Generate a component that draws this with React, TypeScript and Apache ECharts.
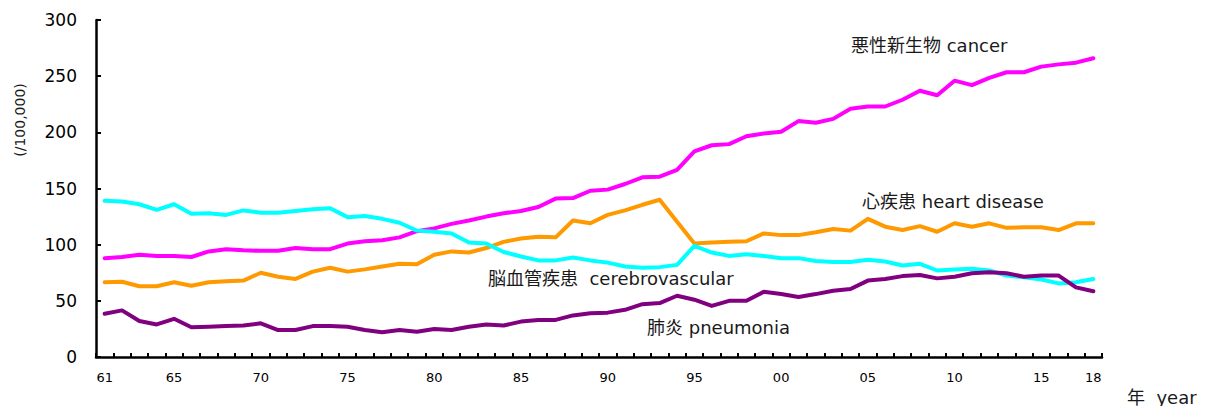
import React, { useEffect, useRef } from "react";
import * as echarts from "echarts";

const years: string[] = [];
for (let y = 1961; y <= 2018; y++) years.push(String(y));

const labelYears = ["1961", "1965", "1970", "1975", "1980", "1985", "1990", "1995", "2000", "2005", "2010", "2015", "2018"];

const cancer = [
  88, 89, 91, 90, 90, 89, 94, 96, 95, 94.5,
  94.5, 97, 96, 96, 101, 103, 104, 106.5, 112, 114.5,
  118.5, 121.5, 125, 128, 130, 133.5, 141, 141.5, 148, 149,
  154, 160, 160.5, 166.5, 183, 188.5, 189.5, 196.5, 199, 200.5,
  210, 208.5, 212, 221, 223, 223, 229, 237, 233, 246,
  242, 248.5, 253.5, 253.5, 258.5, 260.5, 262, 266,
];

const heart = [
  66.5, 67, 63, 63, 66.5, 63.5, 66.5, 67.5, 68, 75,
  71.5, 69.5, 76, 79.5, 76, 78, 80.5, 83, 82.5, 91,
  94, 93, 97, 102.5, 105.5, 107, 106.5, 121.5, 119, 126.5,
  130.5, 135.5, 140, 120.5, 101, 102, 102.5, 103, 110, 108.5,
  108.5, 111, 114, 112.5, 123, 116, 113, 116.5, 111.5, 119,
  116, 119, 115, 115.5, 115.5, 113, 119, 119,
];

const cerebro = [
  139, 138.5, 136, 131, 136, 127.5, 128, 126.5, 130.5, 128.5,
  128.5, 130, 131.5, 132.5, 124.5, 125.5, 123, 119.5, 112.5, 111.5,
  110, 102, 101, 93.5, 89.5, 86, 86, 88.5, 86, 84,
  80.5, 79.5, 80, 82, 99, 93, 90, 91.5, 90, 88,
  88, 85.5, 84.5, 84.5, 86.5, 85, 81.5, 83, 77, 78,
  78.5, 77, 72.5, 71, 69, 65.5, 66.5, 69.5,
];

const pneumonia = [
  38.5, 41.5, 32, 29, 34, 26.5, 27, 27.5, 28, 30,
  24, 24, 27.5, 27.5, 27, 24, 22, 24, 22.5, 25,
  24, 27, 29, 28, 31.5, 33, 33, 37, 39, 39.5,
  42, 47, 48, 54.5, 51, 45.5, 50, 50, 58, 56,
  53.5, 56, 59, 60.5, 68, 69.5, 72, 73, 70, 71.5,
  74.5, 75.5, 74.5, 71.5, 72.5, 72.5, 62, 58.5,
];

const FONT = "'DejaVu Sans', 'Noto Sans CJK JP', sans-serif";

export default function App() {
  const ref = useRef<HTMLDivElement>(null);

  useEffect(() => {
    document.body.style.margin = "0";
    if (!ref.current) return;
    const chart = echarts.init(ref.current, null, { renderer: "svg" });

    const mkLine = (name: string, data: number[], color: string) => ({
      name,
      type: "line",
      data,
      symbol: "none",
      smooth: false,
      lineStyle: { width: 4, color, cap: "round", join: "round" },
      itemStyle: { color },
      z: 3,
    });

    const txt = (text: string, x: number, y: number, size = 18) => ({
      type: "text",
      x,
      y,
      style: {
        text,
        font: `${size}px ${FONT}`,
        fill: "#1a1a1a",
        verticalAlign: "middle",
      },
      z: 10,
    });

    chart.setOption({
      animation: false,
      backgroundColor: "#ffffff",
      grid: { left: 96, right: 111, top: 20, bottom: 49, containLabel: false },
      xAxis: {
        type: "category",
        data: years,
        boundaryGap: true,
        axisLine: { show: true, lineStyle: { color: "#000", width: 2.5 } },
        axisTick: { show: true, inside: true, length: 4, interval: 0, lineStyle: { color: "#000", width: 2 } },
        axisLabel: {
          interval: (_i: number, v: string) => labelYears.includes(v),
          formatter: (v: string) => v.slice(2),
          color: "#000",
          fontSize: 13,
          fontFamily: FONT,
          margin: 14,
        },
        splitLine: { show: false },
      },
      yAxis: {
        type: "value",
        min: 0,
        max: 300,
        interval: 50,
        axisLine: { show: true, lineStyle: { color: "#000", width: 2.5 } },
        axisTick: { show: true, inside: true, length: 5, lineStyle: { color: "#000", width: 2 } },
        axisLabel: { color: "#000", fontSize: 17, fontFamily: FONT, margin: 19 },
        splitLine: { show: false },
      },
      series: [
        mkLine("悪性新生物 cancer", cancer, "#ff00ff"),
        mkLine("心疾患 heart disease", heart, "#ff9900"),
        mkLine("脳血管疾患 cerebrovascular", cerebro, "#00ffff"),
        mkLine("肺炎 pneumonia", pneumonia, "#800080"),
      ],
      graphic: [
        txt("悪性新生物 cancer", 851, 45),
        txt("心疾患 heart disease", 862, 201),
        txt("脳血管疾患  cerebrovascular", 488, 278),
        txt("肺炎 pneumonia", 647, 327),
        txt("年  year", 1127, 397),
        {
          type: "text",
          x: 20,
          y: 120,
          rotation: Math.PI / 2,
          style: {
            text: "(/100,000)",
            font: `14px ${FONT}`,
            fill: "#1a1a1a",
            align: "center",
            verticalAlign: "middle",
          },
          z: 10,
        },
      ],
    });

    return () => chart.dispose();
  }, []);

  return <div ref={ref} style={{ width: 1213, height: 406 }} />;
}
